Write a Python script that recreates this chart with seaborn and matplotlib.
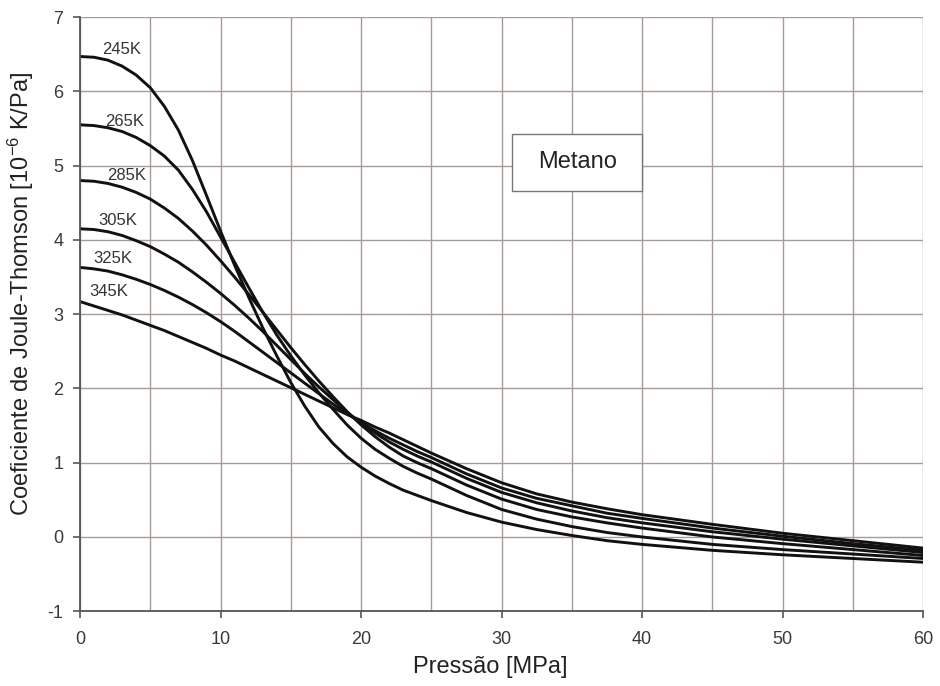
import numpy as np
import pandas as pd
import seaborn as sns
import matplotlib.pyplot as plt
from matplotlib.patches import Rectangle

# Pressão [MPa] e coeficiente JT [1e-6 K/Pa]
pressao = [0, 1, 2, 3, 4, 5, 6, 7, 8, 9, 10, 11, 12, 13, 14, 15, 16, 17, 18, 19, 20,
           21, 22, 23, 24, 25, 27.5, 30, 32.5, 35, 37.5, 40, 45, 50, 55, 60]

mu_245 = [6.47, 6.46, 6.42, 6.34, 6.22, 6.05, 5.80, 5.48, 5.07, 4.60, 4.12, 3.66, 3.23, 2.82, 2.44, 2.08,
          1.76, 1.48, 1.26, 1.08, 0.94, 0.82, 0.72, 0.63, 0.56, 0.49,
          0.33, 0.20, 0.10, 0.02, -0.05, -0.10, -0.18, -0.24, -0.29, -0.34]
mu_265 = [5.55, 5.54, 5.51, 5.46, 5.38, 5.27, 5.13, 4.94, 4.68, 4.38, 4.04, 3.70, 3.36, 3.03, 2.72, 2.44,
          2.18, 1.94, 1.72, 1.51, 1.33, 1.18, 1.06, 0.95, 0.86, 0.78,
          0.56, 0.37, 0.24, 0.14, 0.06, 0.00, -0.10, -0.17, -0.23, -0.29]
mu_285 = [4.80, 4.79, 4.76, 4.71, 4.64, 4.55, 4.43, 4.29, 4.12, 3.93, 3.72, 3.50, 3.27, 3.03, 2.79, 2.55,
          2.32, 2.10, 1.89, 1.69, 1.51, 1.35, 1.21, 1.09, 1.00, 0.92,
          0.70, 0.51, 0.37, 0.27, 0.19, 0.12, 0.00, -0.09, -0.17, -0.25]
mu_305 = [4.15, 4.14, 4.11, 4.06, 3.99, 3.91, 3.81, 3.70, 3.57, 3.43, 3.28, 3.12, 2.95, 2.77, 2.58, 2.39,
          2.20, 2.02, 1.85, 1.68, 1.53, 1.40, 1.28, 1.18, 1.09, 1.01,
          0.79, 0.60, 0.46, 0.35, 0.26, 0.19, 0.07, -0.03, -0.12, -0.21]
mu_325 = [3.63, 3.61, 3.58, 3.53, 3.47, 3.40, 3.32, 3.23, 3.13, 3.02, 2.90, 2.77, 2.63, 2.49, 2.35, 2.21,
          2.07, 1.93, 1.79, 1.66, 1.54, 1.43, 1.33, 1.24, 1.15, 1.07,
          0.85, 0.66, 0.52, 0.42, 0.32, 0.25, 0.12, 0.01, -0.09, -0.18]
mu_345 = [3.17, 3.11, 3.05, 2.99, 2.92, 2.85, 2.78, 2.70, 2.62, 2.54, 2.45, 2.37, 2.28, 2.19, 2.10, 2.01,
          1.92, 1.83, 1.74, 1.65, 1.57, 1.48, 1.40, 1.31, 1.22, 1.13,
          0.92, 0.73, 0.58, 0.47, 0.38, 0.30, 0.17, 0.05, -0.05, -0.15]

temperaturas = ['245K', '265K', '285K', '305K', '325K', '345K']
series = [mu_245, mu_265, mu_285, mu_305, mu_325, mu_345]

# posição dos rótulos de temperatura (coordenadas de dados)
rotulo_x = [2.95, 3.2, 3.35, 2.7, 2.3, 2.05]
rotulo_y = [6.57, 5.60, 4.87, 4.26, 3.75, 3.30]

df = pd.concat(
    [pd.DataFrame({'pressao': pressao, 'mu': s, 'T': t}) for s, t in zip(series, temperaturas)],
    ignore_index=True,
)

sns.set_style('white')
plt.rcParams['font.family'] = ['Liberation Sans', 'DejaVu Sans']
plt.rcParams['mathtext.fontset'] = 'custom'
plt.rcParams['mathtext.rm'] = 'Liberation Sans'
plt.rcParams['mathtext.it'] = 'Liberation Sans'
plt.rcParams['axes.unicode_minus'] = False

fig = plt.figure(figsize=(9.4, 6.86), dpi=100)
ax = fig.add_axes([0.0851, 0.109, 0.897, 0.866])

sns.lineplot(
    data=df, x='pressao', y='mu', hue='T',
    palette=['#111111'] * len(temperaturas),
    linewidth=2.1, legend=False, ax=ax,
)

for t, x, y in zip(temperaturas, rotulo_x, rotulo_y):
    ax.text(x, y, t, fontsize=12, color='#333333', ha='center', va='center')

# caixa "Metano"
ax.add_patch(Rectangle((30.75, 4.66), 9.25, 0.77, facecolor='white',
                       edgecolor='#777777', linewidth=1, zorder=3))
ax.text(35.4, 5.05, 'Metano', fontsize=17, color='#222222', ha='center', va='center', zorder=4)

ax.set_xlim(0, 60)
ax.set_ylim(-1, 7)
ax.set_xticks(np.arange(0, 61, 10))
ax.set_xticks(np.arange(0, 61, 5), minor=True)
ax.set_yticks(np.arange(-1, 8, 1))

grid_cor = '#a89b96'
ax.grid(True, which='both', axis='x', color=grid_cor, linewidth=1)
ax.grid(True, which='major', axis='y', color=grid_cor, linewidth=1)
ax.set_axisbelow(True)

for lado in ['top', 'right']:
    ax.spines[lado].set_visible(False)
for lado in ['left', 'bottom']:
    ax.spines[lado].set_color('#555555')
    ax.spines[lado].set_linewidth(1.3)

ax.tick_params(axis='both', which='major', direction='out', length=5, width=1.2,
               color='#555555', labelsize=13, labelcolor='#3a3a3a', pad=9)
ax.tick_params(axis='x', which='minor', length=0)
ax.tick_params(axis='y', left=True, pad=7)
ax.tick_params(axis='x', bottom=True)

ax.set_xlabel('Pressão [MPa]', fontsize=17, color='#222222', labelpad=6, x=0.487)
ax.set_ylabel('Coeficiente de Joule-Thomson [10$^{-6}$ K/Pa]', fontsize=17, color='#222222',
              labelpad=8, y=0.535)

fig.savefig('out.png', dpi=100)
